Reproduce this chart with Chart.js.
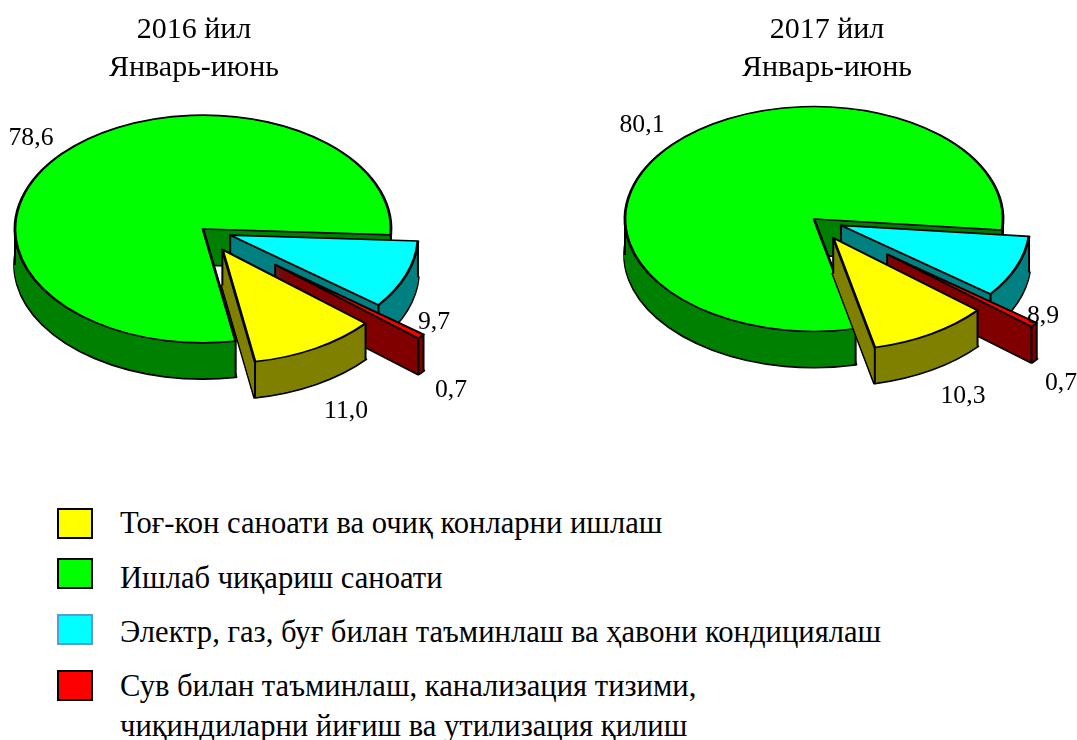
<!DOCTYPE html>
<html>
<head>
<meta charset="utf-8">
<title>2016-2017</title>
<script src="https://cdn.jsdelivr.net/npm/chart.js@4"></script>
<style>
  html, body { margin: 0; padding: 0; background: #fff; }
  body { position: relative; width: 1077px; height: 740px; overflow: hidden; font-family: "Liberation Serif", serif; color: #000; }
  canvas { position: absolute; top: 0; }
  .title { position: absolute; width: 300px; text-align: center; font-size: 30px; line-height: 38px; top: 9px; }
  .key { position: absolute; left: 57px; width: 32px; height: 27px; border: 2px solid #000; }
  .name { position: absolute; left: 120px; font-size: 30.6px; line-height: 40px; white-space: pre; }
</style>
</head>
<body>
<canvas id="pieLeft" width="538" height="470" style="left:0"></canvas>
<canvas id="pieRight" width="477" height="470" style="left:600px"></canvas>
<div id="titles"></div>
<div id="legend"></div>
<script>
// ========== data ==========
const categories = [
  "Тоғ-кон саноати ва очиқ конларни ишлаш",
  "Ишлаб чиқариш саноати",
  "Электр, газ, буғ билан таъминлаш ва ҳавони кондициялаш",
  "Сув билан таъминлаш, канализация тизими,\nчиқиндиларни йиғиш ва утилизация қилиш"
];
const values2016 = [11.0, 78.6, 9.7, 0.7];
const values2017 = [10.3, 80.1, 8.9, 0.7];
const titles2016 = ["2016 йил", "Январь-июнь"];
const titles2017 = ["2017 йил", "Январь-июнь"];

// ========== styles ==========
const topColors = ["#ffff00", "#00ff00", "#00ffff", "#ff0000"];
const wallColors = ["#808000", "#008000", "#008080", "#800000"];
const keyBorders = ["#000", "#000", "#5b9bd5", "#000"];
const drawOrder = [1, 2, 3, 0];   // back to front
const DEPTH = 36;

// how far each slice is pulled out, and where its number goes (relative to the pie centre)
const pieLeft = {
  canvas: "pieLeft", values: values2016, centerX: 203, centerY: 229, radius: 188, squash: 0.606,
  rotation: 130.4, explode: [39, 0, 29, 93],
  labelAt: [[143, 182], [-172, -91], [231, 93], [248, 161]]
};
const pieRight = {
  canvas: "pieRight", values: values2017, centerX: 214, centerY: 219, radius: 189, squash: 0.595,
  rotation: 130.2, explode: [37, 0, 29, 94],
  labelAt: [[149, 177], [-172, -94], [229, 97], [247, 164]]
};

// ========== 3D pie plugin ==========
function flatOptions(fill, line, width) {
  return {
    backgroundColor: fill, borderColor: line, borderWidth: width, borderAlign: "center",
    borderJoinStyle: "round", borderDash: [], borderDashOffset: 0,
    offset: 0, spacing: 0, circular: true
  };
}

function drawSlice(ctx, arc, pie, pull, drop, fill, line, width) {
  const mid = (arc.startAngle + arc.endAngle) / 2;
  const keep = arc.options;
  ctx.save();
  ctx.translate(arc.x, arc.y + drop);
  ctx.scale(1, pie.squash);
  ctx.translate(-arc.x, -arc.y);
  ctx.translate(Math.cos(mid) * pull, Math.sin(mid) * pull);
  arc.options = flatOptions(fill, line, width);
  arc.draw(ctx);
  arc.options = keep;
  ctx.restore();
}

function drawEdges(ctx, arc, pie, pull) {
  const mid = (arc.startAngle + arc.endAngle) / 2;
  const ox = arc.x + Math.cos(mid) * pull;
  const oy = arc.y + Math.sin(mid) * pull * pie.squash;
  const r = arc.outerRadius;
  const spots = [[ox, oy]];
  const angles = [arc.startAngle, arc.endAngle];
  for (const turn of [0, Math.PI, 2 * Math.PI]) {
    if (turn > arc.startAngle && turn < arc.endAngle) angles.push(turn);
  }
  for (const a of angles) {
    spots.push([ox + Math.cos(a) * r, oy + Math.sin(a) * r * pie.squash]);
  }
  ctx.save();
  ctx.strokeStyle = "#000";
  ctx.lineWidth = 2;
  ctx.beginPath();
  for (const [x, y] of spots) {
    ctx.moveTo(x, y);
    ctx.lineTo(x, y + DEPTH);
  }
  ctx.stroke();
  ctx.restore();
}

const tiltPlugin = {
  id: "tilt",
  beforeDatasetDraw(chart, args) {
    const pie = chart.options.plugins.tilt.pie;
    const ctx = chart.ctx;
    const arcs = args.meta.data;
    for (const i of drawOrder) {
      const arc = arcs[i];
      const pull = pie.explode[i];
      drawSlice(ctx, arc, pie, pull, DEPTH, wallColors[i], "#000", 3.6);
      for (let d = DEPTH - 1; d > 0; d--) {
        // same colour border so the thin tip of a slice leaves no gaps
        drawSlice(ctx, arc, pie, pull, d, wallColors[i], wallColors[i], 1.2);
      }
      drawEdges(ctx, arc, pie, pull);
      drawSlice(ctx, arc, pie, pull, 0, topColors[i], "#000", 2.8);
    }
    return false;
  },
  afterDraw(chart) {
    const pie = chart.options.plugins.tilt.pie;
    const ctx = chart.ctx;
    const arc = chart.getDatasetMeta(0).data[0];
    ctx.save();
    ctx.fillStyle = "#000";
    ctx.font = '25.7px "Liberation Serif"';
    ctx.textAlign = "center";
    ctx.textBaseline = "middle";
    pie.values.forEach((v, i) => {
      const text = v.toFixed(1).replace(".", ",");
      ctx.fillText(text, arc.x + pie.labelAt[i][0], arc.y + pie.labelAt[i][1]);
    });
    ctx.restore();
  }
};

function renderPie(pie) {
  const el = document.getElementById(pie.canvas);
  new Chart(el.getContext("2d"), {
    type: "pie",
    data: {
      labels: categories,
      datasets: [{
        data: pie.values,
        backgroundColor: topColors,
        radius: pie.radius
      }]
    },
    options: {
      responsive: false,
      animation: false,
      rotation: pie.rotation,
      layout: {
        padding: {
          right: el.width - 2 * pie.centerX,
          bottom: el.height - 2 * pie.centerY
        }
      },
      plugins: {
        legend: { display: false },
        tooltip: { enabled: false },
        tilt: { pie: pie }
      }
    },
    plugins: [tiltPlugin]
  });
}

// ========== titles and legend ==========
function renderTitles() {
  const box = document.getElementById("titles");
  [[titles2016, 44], [titles2017, 677]].forEach(([lines, left]) => {
    const t = document.createElement("div");
    t.className = "title";
    t.style.left = left + "px";
    t.innerHTML = lines.join("<br>");
    box.appendChild(t);
  });
}

function renderLegend() {
  const box = document.getElementById("legend");
  const keyTops = [508, 558, 614, 670];
  const nameTops = [503, 558, 612, 666];
  categories.forEach((name, i) => {
    const key = document.createElement("div");
    key.className = "key";
    key.style.top = keyTops[i] + "px";
    key.style.background = topColors[i];
    key.style.borderColor = keyBorders[i];
    box.appendChild(key);
    const label = document.createElement("div");
    label.className = "name";
    label.style.top = nameTops[i] + "px";
    label.textContent = name;
    box.appendChild(label);
  });
}

renderPie(pieLeft);
renderPie(pieRight);
renderTitles();
renderLegend();
</script>
</body>
</html>
